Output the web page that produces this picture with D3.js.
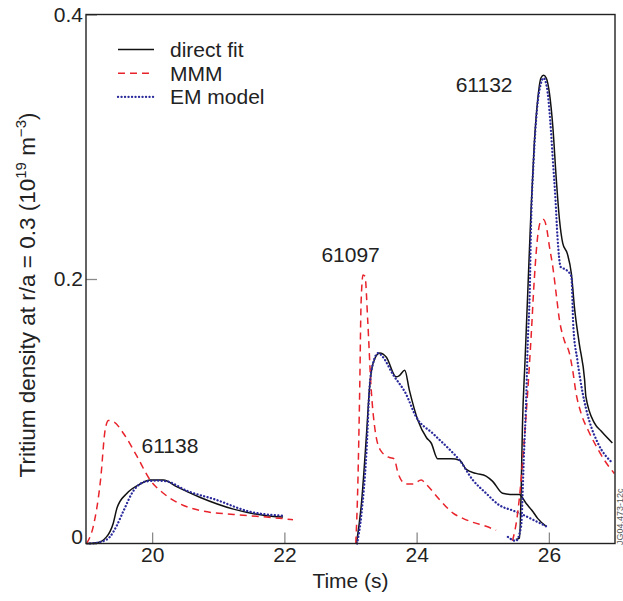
<!DOCTYPE html>
<html>
<head>
<meta charset="utf-8">
<script src="https://cdn.jsdelivr.net/npm/d3@7"></script>
<style>
  body { margin: 0; background: #fff; }
  svg text { font-family: "Liberation Sans", Arial, sans-serif; fill: #222; }
</style>
</head>
<body>
<svg id="chart" width="623" height="601"></svg>
<script>
// shot numbers and legend entries
var shotLabels = ["61138", "61097", "61132"];
var seriesNames = ["direct fit", "MMM", "EM model"];
var xTicks = [20, 22, 24, 26];
var yTicks = [0, 0.2, 0.4];

// [time (s), tritium density (1e19 m^-3)]
var directFit61138 = [[19.01,0],[19.16,0.0005],[19.31,0.005],[19.41,0.015],[19.47,0.027],[19.62,0.038],[19.82,0.045],[19.97,0.048],[20.17,0.048],[20.37,0.043],[20.72,0.035],[21.23,0.026],[21.73,0.021],[21.98,0.020]];
var mmm61138 = [[19.01,0],[19.11,0.013],[19.22,0.048],[19.29,0.086],[19.34,0.093],[19.42,0.092],[19.57,0.083],[19.77,0.066],[19.97,0.048],[20.17,0.038],[20.42,0.030],[20.72,0.025],[21.23,0.022],[21.73,0.020],[22.13,0.018]];
var em61138 = [[19.06,0],[19.21,0.001],[19.36,0.005],[19.46,0.013],[19.57,0.025],[19.72,0.040],[19.92,0.047],[20.07,0.0475],[20.22,0.047],[20.52,0.040],[20.97,0.033],[21.48,0.024],[21.98,0.021]];

var directFit61097 = [[23.09,0],[23.165,0.030],[23.24,0.081],[23.29,0.119],[23.34,0.136],[23.44,0.144],[23.54,0.141],[23.69,0.126],[23.74,0.127],[23.82,0.131],[23.89,0.116],[24.02,0.093],[24.15,0.080],[24.22,0.076],[24.32,0.064],[24.52,0.064],[24.65,0.063],[24.75,0.056],[24.90,0.053],[25.05,0.051],[25.15,0.047],[25.30,0.038],[25.45,0.037],[25.55,0.037],[25.66,0.030],[25.76,0.024],[25.83,0.019],[25.96,0.013]];
var mmm61097 = [[23.08,0],[23.11,0.043],[23.14,0.119],[23.16,0.182],[23.19,0.203],[23.22,0.202],[23.26,0.169],[23.31,0.119],[23.38,0.083],[23.46,0.070],[23.59,0.065],[23.66,0.064],[23.72,0.053],[23.84,0.045],[23.94,0.045],[24.07,0.048],[24.14,0.045],[24.35,0.033],[24.55,0.023],[24.70,0.019],[24.85,0.016],[25.05,0.013],[25.20,0.010]];
var em61097 = [[23.10,0],[23.165,0.022],[23.24,0.068],[23.29,0.119],[23.34,0.136],[23.42,0.144],[23.49,0.141],[23.64,0.128],[23.84,0.113],[23.99,0.096],[24.25,0.083],[24.50,0.071],[24.65,0.063],[24.85,0.048],[25.05,0.038],[25.25,0.029],[25.45,0.025],[25.55,0.023],[25.76,0.018],[25.96,0.013]];

var directFit61132 = [[25.50,0.003],[25.555,0.004],[25.58,0.038],[25.60,0.088],[25.64,0.139],[25.68,0.189],[25.73,0.252],[25.78,0.303],[25.83,0.335],[25.88,0.352],[25.92,0.354],[25.96,0.352],[26.01,0.340],[26.06,0.315],[26.11,0.277],[26.16,0.245],[26.21,0.227],[26.28,0.219],[26.34,0.204],[26.39,0.177],[26.46,0.151],[26.54,0.124],[26.56,0.111],[26.69,0.091],[26.79,0.085],[26.96,0.076]];
var mmm61132 = [[25.45,0.002],[25.52,0.020],[25.58,0.048],[25.63,0.080],[25.68,0.115],[25.73,0.155],[25.78,0.200],[25.83,0.232],[25.88,0.244],[25.92,0.245],[25.96,0.240],[26.01,0.224],[26.06,0.209],[26.11,0.189],[26.16,0.169],[26.23,0.154],[26.31,0.144],[26.36,0.131],[26.41,0.114],[26.49,0.098],[26.59,0.086],[26.69,0.076],[26.84,0.063],[26.99,0.053]];
var em61132 = [[25.38,0.005],[25.50,0.002],[25.58,0.013],[25.62,0.063],[25.66,0.114],[25.68,0.151],[25.71,0.189],[25.73,0.240],[25.77,0.290],[25.82,0.328],[25.88,0.348],[25.92,0.352],[25.97,0.345],[26.02,0.320],[26.06,0.290],[26.10,0.260],[26.13,0.232],[26.18,0.209],[26.26,0.207],[26.34,0.202],[26.37,0.164],[26.43,0.139],[26.51,0.114],[26.61,0.093],[26.74,0.076],[26.96,0.061]];

var svg = d3.select("#chart"),
    margin = { top: 14.5, right: 8, bottom: 57.5, left: 86 },
    width = 623 - margin.left - margin.right,
    height = 601 - margin.top - margin.bottom;

var x = d3.scaleLinear().domain([19, 27]).range([0, width]),
    y = d3.scaleLinear().domain([0, 0.4]).range([height, 0]);

var g = svg.append("g").attr("transform", "translate(" + margin.left + "," + margin.top + ")");

var styles = [
    { stroke: "#111", width: 1.5, dash: null, cap: "butt" },
    { stroke: "#e8232b", width: 1.5, dash: "7,5", cap: "butt" },
    { stroke: "#2a2a9c", width: 2.3, dash: "0.1,3.4", cap: "round" }
];

// axes with inward grey ticks
var xAxis = g.append("g")
    .attr("transform", "translate(0," + height + ")")
    .call(d3.axisBottom(x).tickValues(xTicks).tickSize(-11).tickPadding(4).tickFormat(d3.format("d")));
var yAxis = g.append("g")
    .call(d3.axisLeft(y).tickValues(yTicks).tickSize(-11).tickPadding(3)
        .tickFormat(function (d) { return d === 0 ? "0" : d3.format(".1f")(d); }));

[xAxis, yAxis].forEach(function (a) {
    a.select(".domain").remove();
    a.selectAll(".tick line").attr("stroke", "#8a8a8a").attr("stroke-width", 1.3);
    a.selectAll(".tick text").attr("font-size", 21).attr("fill", "#222");
});
yAxis.selectAll(".tick text").filter(function (d) { return d === 0; }).attr("dy", "-0.02em");

// curves
var line = d3.line()
    .curve(d3.curveMonotoneX)
    .x(function (d) { return x(d[0]); })
    .y(function (d) { return y(d[1]); });

var shots = [
    [directFit61138, mmm61138, em61138],
    [directFit61097, mmm61097, em61097],
    [directFit61132, mmm61132, em61132]
];

shots.forEach(function (shot) {
    shot.forEach(function (values, i) {
        var s = styles[i];
        g.append("path")
            .attr("d", line(values))
            .attr("fill", "none")
            .attr("stroke", s.stroke)
            .attr("stroke-width", s.width)
            .attr("stroke-dasharray", s.dash)
            .attr("stroke-linecap", s.cap);
    });
});

// frame
g.append("rect")
    .attr("width", width).attr("height", height)
    .attr("fill", "none").attr("stroke", "#222").attr("stroke-width", 1.4);

// shot labels
var labelPos = [[19.84, 0.0687, "start"], [22.56, 0.2132, "start"], [25.45, 0.3414, "end"]];
shotLabels.forEach(function (lbl, i) {
    g.append("text")
        .attr("x", x(labelPos[i][0]))
        .attr("y", y(labelPos[i][1]))
        .attr("text-anchor", labelPos[i][2])
        .attr("font-size", 21)
        .text(lbl);
});

// legend
var legend = g.append("g").attr("transform", "translate(32,35)");
seriesNames.forEach(function (name, i) {
    var s = styles[i], row = legend.append("g").attr("transform", "translate(0," + (i * 23.7) + ")");
    row.append("line")
        .attr("x1", 0).attr("x2", 36).attr("y1", 0).attr("y2", 0)
        .attr("stroke", s.stroke).attr("stroke-width", s.width)
        .attr("stroke-dasharray", s.dash).attr("stroke-linecap", s.cap);
    row.append("text").attr("x", 52).attr("dy", "0.35em").attr("font-size", 21).text(name);
});

// axis titles
svg.append("text")
    .attr("x", margin.left + width / 2).attr("y", 588)
    .attr("text-anchor", "middle").attr("font-size", 21)
    .text("Time (s)");

var yTitle = svg.append("text")
    .attr("transform", "translate(35,295) rotate(-90)")
    .attr("text-anchor", "middle").attr("font-size", 22.5);
yTitle.append("tspan").text("Tritium density at r/a = 0.3 (10");
yTitle.append("tspan").attr("font-size", 15).attr("dy", -9).text("19");
yTitle.append("tspan").attr("dy", 9).text(" m");
yTitle.append("tspan").attr("font-size", 15).attr("dy", -9).text("\u22123");
yTitle.append("tspan").attr("dy", 9).text(")");

// figure id
svg.append("text")
    .attr("transform", "translate(622.5,545) rotate(-90)")
    .attr("font-size", 9).style("fill", "#555")
    .text("JG04.473-12c");
</script>
</body>
</html>
